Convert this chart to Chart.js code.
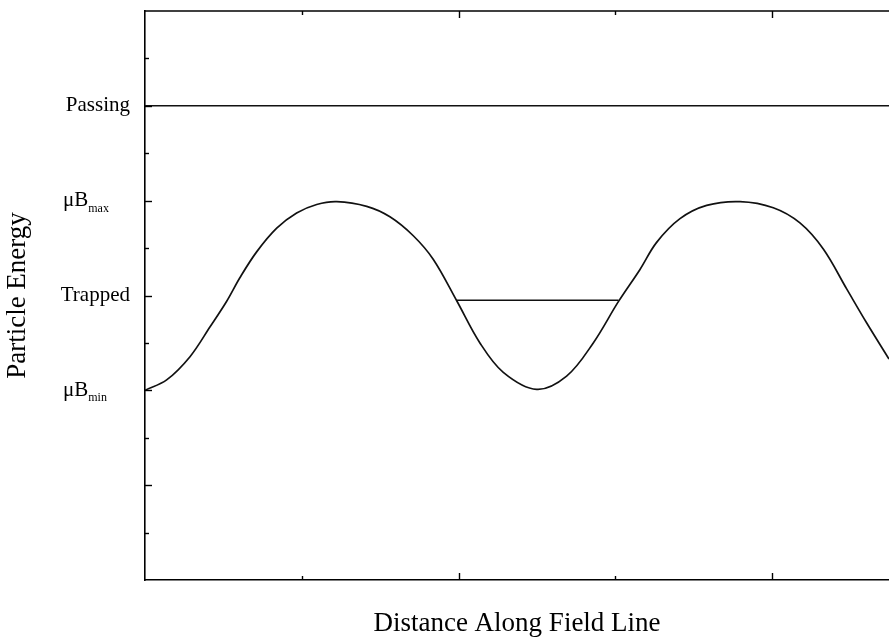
<!DOCTYPE html>
<html>
<head>
<meta charset="utf-8">
<script src="https://cdn.jsdelivr.net/npm/chart.js@4/dist/chart.umd.min.js"></script>
<style>
  html, body { margin: 0; padding: 0; background: #fff; }
  #wrap { width: 889px; height: 638px; position: relative; }
</style>
</head>
<body>
<div id="wrap"><canvas id="energy-chart"></canvas></div>
<script>
// curve: distance (tick units) vs energy (tick units)
const fieldX = [0, 0.138, 0.287, 0.415, 0.521, 0.606, 0.712, 0.84, 0.967, 1.095, 1.223, 1.414, 1.562,
                1.711, 1.839, 1.988, 2.136, 2.285, 2.498, 2.689, 2.859, 3.019, 3.157, 3.263, 3.412,
                3.582, 3.795, 4.007, 4.177, 4.326, 4.475, 4.603, 4.745];
const fieldY = [4.0, 4.22, 4.71, 5.34, 5.88, 6.38, 6.92, 7.42, 7.74, 7.92, 7.98, 7.88, 7.66,
                7.26, 6.76, 5.89, 5.0, 4.38, 4.02, 4.3, 5.0, 5.87, 6.55, 7.12, 7.62,
                7.9, 7.98, 7.85, 7.53, 6.98, 6.14, 5.42, 4.66];

const passingX = [0, 4.745];
const passingY = [10, 10];
const trappedX = [1.99, 3.02];
const trappedY = [5.9, 5.9];

const yTickValues = [1, 2, 3, 4, 5, 6, 7, 8, 9, 10, 11];
const yLabelValues = [4, 6, 8, 10];
const yLabelMain = ["\u03bcB", "Trapped", "\u03bcB", "Passing"];
const yLabelSub = ["min", "", "max", ""];
const xTickValues = [1, 2, 3, 4];
const xMajorTicks = [2, 4];

const serif = '"Liberation Serif", "Times New Roman", serif';

function toPoints(xs, ys) {
    return xs.map((x, i) => ({ x: x, y: ys[i] }));
}

// top frame line, inward tick marks and the subscripted labels
const frameTicks = {
    id: "frameTicks",
    afterDraw(chart) {
        const ctx = chart.ctx;
        const a = chart.chartArea;
        const x = chart.scales.x;
        const y = chart.scales.y;
        ctx.save();
        ctx.strokeStyle = "#000";
        ctx.lineWidth = 1.6;
        ctx.beginPath();
        ctx.moveTo(a.left, a.top);
        ctx.lineTo(a.right, a.top);
        ctx.stroke();

        ctx.lineWidth = 1.4;
        yTickValues.forEach(v => {
            const py = Math.round(y.getPixelForValue(v)) + 0.5;
            const len = v % 2 === 0 ? 7 : 4;
            ctx.beginPath();
            ctx.moveTo(a.left, py);
            ctx.lineTo(a.left + len, py);
            ctx.stroke();
        });
        xTickValues.forEach(v => {
            const px = Math.round(x.getPixelForValue(v)) + 0.5;
            const len = xMajorTicks.includes(v) ? 7 : 4;
            ctx.beginPath();
            ctx.moveTo(px, a.bottom);
            ctx.lineTo(px, a.bottom - len);
            ctx.moveTo(px, a.top);
            ctx.lineTo(px, a.top + len);
            ctx.stroke();
        });

        ctx.fillStyle = "#000";
        ctx.textAlign = "left";
        yLabelValues.forEach((v, i) => {
            if (!yLabelSub[i]) return;
            const py = y.getPixelForValue(v);
            const lx = a.left - 82;
            ctx.font = "21px " + serif;
            ctx.textBaseline = "middle";
            ctx.fillText(yLabelMain[i], lx, py);
            const w = ctx.measureText(yLabelMain[i]).width;
            ctx.font = "12px " + serif;
            ctx.textBaseline = "alphabetic";
            ctx.fillText(yLabelSub[i], lx + w, py + 11);
        });
        ctx.restore();
    }
};

const ctx = document.getElementById("energy-chart").getContext("2d");

new Chart(ctx, {
    type: "scatter",
    data: {
        datasets: [
            {
                label: "Field",
                data: toPoints(fieldX, fieldY),
                showLine: true,
                borderColor: "#111",
                borderWidth: 1.7,
                pointRadius: 0,
                tension: 0.35
            },
            {
                label: "Passing",
                data: toPoints(passingX, passingY),
                showLine: true,
                borderColor: "#111",
                borderWidth: 1.5,
                pointRadius: 0
            },
            {
                label: "Trapped",
                data: toPoints(trappedX, trappedY),
                showLine: true,
                borderColor: "#111",
                borderWidth: 1.3,
                pointRadius: 0
            }
        ]
    },
    options: {
        responsive: true,
        maintainAspectRatio: false,
        animation: false,
        layout: { padding: { top: 11, right: 0, bottom: 0, left: 0 } },
        plugins: {
            legend: { display: false },
            tooltip: { enabled: false }
        },
        scales: {
            x: {
                type: "linear",
                min: 0,
                max: 4.745,
                grid: { display: false, drawTicks: false },
                border: { display: true, color: "#000", width: 1.6 },
                ticks: { display: false },
                title: {
                    display: true,
                    text: "Distance Along Field Line",
                    color: "#000",
                    font: { family: serif, size: 27, lineHeight: 1.05 },
                    padding: { top: 0, bottom: 0 }
                },
                afterFit(scale) {
                    scale.height = 58;
                    scale.paddingLeft = 0;
                    scale.paddingRight = 0;
                }
            },
            y: {
                type: "linear",
                min: 0,
                max: 12,
                grid: { display: false, drawTicks: false },
                border: { display: true, color: "#000", width: 1.6 },
                ticks: {
                    stepSize: 1,
                    autoSkip: false,
                    padding: 15,
                    color: "#000",
                    font: { family: serif, size: 21 },
                    callback: function(value) {
                        const i = yLabelValues.indexOf(value);
                        return i >= 0 && !yLabelSub[i] ? yLabelMain[i] : "";
                    }
                },
                title: {
                    display: true,
                    text: "Particle Energy",
                    color: "#000",
                    font: { family: serif, size: 27, lineHeight: 1.05 },
                    padding: { top: 4, bottom: 0 }
                },
                afterFit(scale) {
                    scale.width = 145;
                    scale.paddingTop = 0;
                    scale.paddingBottom = 0;
                }
            }
        }
    },
    plugins: [frameTicks]
});
</script>
</body>
</html>
